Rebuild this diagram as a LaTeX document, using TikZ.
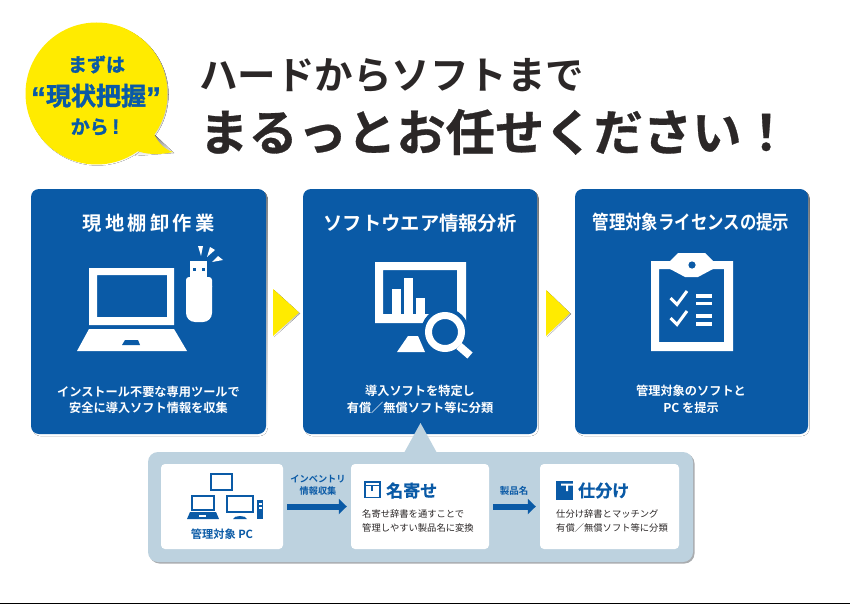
\documentclass[tikz,border=0pt]{standalone}
\usepackage{fontspec}
\usetikzlibrary{arrows.meta}
\setmainfont{Noto Sans CJK JP}
\newfontfamily\jpb[FakeBold=0.6]{Noto Sans CJK JP Bold}
\newfontfamily\jpx[FakeBold=1.6]{Noto Sans CJK JP Bold}
\newfontfamily\jpm{Noto Sans CJK JP Bold}
\newfontfamily\jpr{Noto Sans CJK JP}
\newfontfamily\latb[FakeBold=1]{Liberation Sans Bold}
\newcommand\fsz[1]{\fontsize{#1}{#1}\selectfont}
\definecolor{panelblue}{HTML}{0A5AA6}
\definecolor{sunny}{HTML}{FFEB00}
\definecolor{palesteel}{HTML}{BDD2DF}
\definecolor{shade}{HTML}{C4CACE}
\definecolor{ink}{HTML}{2B2727}
\tikzset{
  x=1pt,y=-1pt,
  panel/.style={fill=panelblue,rounded corners=8pt,minimum width=235pt,minimum height=245pt,inner sep=0pt},
  whitebox/.style={fill=white,rounded corners=4pt,minimum height=85pt,inner sep=0pt},
  paneltitle/.style={text=white,font=\jpm\fsz{19.3},inner sep=0pt},
  panelbody/.style={text=white,font=\jpm\fsz{12.2},inner sep=0pt},
  subtitle/.style={text=panelblue,font=\jpb\fsz{17},inner sep=0pt,anchor=west},
  subbody/.style={text=ink,font=\jpr\fsz{9.3},inner sep=0pt,anchor=west},
  flowlabel/.style={text=panelblue,font=\jpm\fsz{9.2},inner sep=0pt},
  flowarrow/.style={draw=panelblue,line width=6pt,shorten <=4pt,shorten >=4pt,-{Triangle[length=8pt,width=15pt]}},
  bubbletext/.style={text=panelblue,font=\jpx\fsz{19},inner sep=0pt},
  icon/.style={fill=white,draw=none},
  cut/.style={fill=panelblue,draw=none},
}
\begin{document}
\begin{tikzpicture}
\useasboundingbox (0,0) rectangle (850,604);
\fill[white] (0,0) rectangle (850,604);
% bottom rule
\draw[black,line width=1.2pt] (0,603.4) -- (850,603.4);

% speech bubble
\fill[shade] (97.5,94.5) circle[radius=71];
\fill[shade] (155,135) -- (174,153) -- (135,156) -- cycle;
\fill[sunny] (96.5,93.5) circle[radius=71];
\fill[sunny] (152,130) .. controls (157,141) and (163,149) .. (173,152) .. controls (160,155) and (146,155) .. (135,150) -- cycle;
\node[bubbletext] (b1) at (96.5,64.5) {まずは};
\node[bubbletext,font=\jpx\fsz{25}] (b2) at (96,96) {{\latb\fsz{30}\raisebox{-3pt}{“}}現状把握{\latb\fsz{30}\raisebox{-3pt}{”}}};
\node[bubbletext] (b3) at (95,127) {から{\latb\fsz{21}\,!}};

% headline
\node[anchor=west,inner sep=0pt,text=ink,font=\jpm\fsz{38.5}] (h1) at (199,76) {ハードからソフトまで};
\node[anchor=west,inner sep=0pt,text=ink,font=\jpb\fsz{49.3}] (h2) at (199,132) {まるっとお任せください！};

% main panels
\fill[shade,rounded corners=8pt] (32.5,190.5) rectangle (267.5,436);
\fill[shade,rounded corners=8pt] (304.5,190.5) rectangle (538.5,436);
\fill[shade,rounded corners=8pt] (576.5,190.5) rectangle (809.5,436);
\node[panel] (p1) at (148.5,311.5) {};
\node[panel,minimum width=234pt] (p2) at (420,311.5) {};
\node[panel,minimum width=233pt] (p3) at (691.5,311.5) {};

% panel titles
\node[paneltitle] (t1) at (148.5,223) {現\,地\,棚\,卸\,作\,業};
\node[paneltitle] (t2) at (420,223) {ソフトウエア情報分析};
\node[paneltitle] (t3) at (691,222.5) {\scalebox{0.85}[1]{管理対象ライセンスの提示}};

% panel bodies
\node[panelbody] (d1a) at (148.5,392) {インストール不要な専用ツールで};
\node[panelbody] (d1b) at (148.5,408) {安全に導入ソフト情報を収集};
\node[panelbody] (d2a) at (420,391) {導入ソフトを特定し};
\node[panelbody] (d2b) at (420,408) {有償／無償ソフト等に分類};
\node[panelbody] (d3a) at (691,391) {管理対象のソフトと};
\node[panelbody] (d3b) at (691,408) {PC を提示};

% yellow arrows
\fill[shade] (274,290) -- (300,313.5) -- (274,337) -- cycle;
\fill[shade] (547,291) -- (571,314) -- (547,337) -- cycle;
\fill[sunny] (273,289) -- (299,312.5) -- (273,336) -- cycle;
\fill[sunny] (546,290) -- (570,313) -- (546,336) -- cycle;

% laptop icon
\fill[icon,even odd rule] (89,268) rectangle (174,325) (97,275) rectangle (167,317);
\fill[icon] (89,329) -- (174,329) -- (187,351) -- (77,351) -- cycle;
\fill[cut] (125,340) -- (138,340) -- (140,345) -- (122,345) -- cycle;
% usb stick
\fill[icon] (190,261) rectangle (207,278);
\fill[icon,rounded corners=9pt] (186,277) rectangle (212,322);
\fill[icon,rounded corners=3pt] (186,277) rectangle (212,290);
\fill[cut] (192.5,267.5) rectangle (195.5,270.5);
\fill[cut] (201.5,267.5) rectangle (204.5,270.5);
\fill[icon] (198,246) -- (203,246) -- (201,256) -- cycle;
\fill[icon] (210,247) -- (215,250) -- (207,257) -- cycle;
\fill[icon] (218,256) -- (223,260) -- (212,262) -- cycle;

% monitor + magnifier icon
\fill[icon,even odd rule] (375,262) rectangle (466,323) (383,270) rectangle (457,314);
\fill[icon] (392,289) rectangle (401,315);
\fill[icon] (404,278) rectangle (413,315);
\fill[icon] (416,298) rectangle (425,315);
\fill[icon] (397,352) -- (408,336) -- (418,336) -- (425,352) -- cycle;
\fill[cut] (445,332) circle[radius=24];
\draw[white,line width=7pt] (445,332) circle[radius=16.5];
\draw[white,line width=8pt] (459,346) -- (470,355.5);

% clipboard icon
\fill[icon,even odd rule] (651,261) rectangle (733,351) (659,269) rectangle (724,342);
\fill[icon] (670,261) -- (678,253) -- (705,253) -- (713,261) -- (713,269) -- (698,277) -- (685,277) -- (670,269) -- cycle;
\fill[cut] (692,265) circle[radius=3.6];
\draw[white,line width=3pt] (670.5,298) -- (677,304.5) -- (687,291);
\draw[white,line width=3pt] (670.5,318) -- (677,324.5) -- (687,311);
\foreach \ly in {296,303.5,316,324}{\fill[icon] (696,\ly-1.8) rectangle (712,\ly+1.8);}

% lower panel
\fill[shade!60!gray,rounded corners=10pt] (149.5,453.5) rectangle (694.5,563.5);
\fill[palesteel,rounded corners=10pt] (148,452) rectangle (693,562);
\fill[palesteel] (420.5,423) -- (437,453) -- (404,453) -- cycle;
\node[whitebox,minimum width=122pt] (pc) at (222,506.5) {};
\node[whitebox,minimum width=138pt] (nayose) at (420,506.5) {};
\node[whitebox,minimum width=139pt] (shiwake) at (609.5,506.5) {};
\draw[flowarrow] (pc.east) -- (nayose.west);
\draw[flowarrow] (nayose.east) -- (shiwake.west);
\node[flowlabel] (f1) at (318,479) {インベントリ};
\node[flowlabel] (f2) at (318,491) {情報収集};
\node[flowlabel,font=\jpm\fsz{9.5}] (f3) at (514,491) {製品名};

% PC group icon
\draw[panelblue,line width=2.2pt] (211,474) rectangle (232,490);
\draw[panelblue,line width=2.2pt] (192,496) rectangle (214,510);
\fill[panelblue] (190,512) -- (216,512) -- (219,519) -- (187,519) -- cycle;
\fill[white] (199,515) rectangle (206,517);
\draw[panelblue,line width=2.2pt] (227,496) rectangle (253,512);
\fill[panelblue] (233,519) .. controls (234,515) and (246,515) .. (247,519) -- cycle;
\fill[panelblue] (257,500) rectangle (263,519);
\fill[white] (258.5,503) rectangle (261.5,505);
\fill[white] (258.5,507) rectangle (261.5,509);
\node[text=panelblue,font=\jpm\fsz{11.2},inner sep=0pt] (pclabel) at (222,534) {管理対象 PC};

% nayose
\draw[panelblue,line width=1.8pt] (365,482) rectangle (380,497.5);
\draw[panelblue,line width=1.5pt] (365,485.5) -- (380,485.5);
\fill[panelblue] (371,485.5) rectangle (373,491);
\node[subtitle] (n1) at (386,490.5) {名寄せ};
\node[subbody] (n2) at (362,514) {名寄せ辞書を通すことで};
\node[subbody] (n3) at (362,528) {管理しやすい製品名に変換};

% shiwake
\fill[panelblue] (556,481) rectangle (573,500);
\fill[white] (561,483.5) -- (573,483.5) -- (573,485.5) -- (568,485.5) -- (568,491) -- (566,491) -- (566,485.5) -- (561,485.5) -- cycle;
\node[subtitle] (s1) at (578,490.5) {仕分け};
\node[subbody] (s2) at (556,514) {仕分け辞書とマッチング};
\node[subbody] (s3) at (556,528) {有償／無償ソフト等に分類};
\end{tikzpicture}
\end{document}
